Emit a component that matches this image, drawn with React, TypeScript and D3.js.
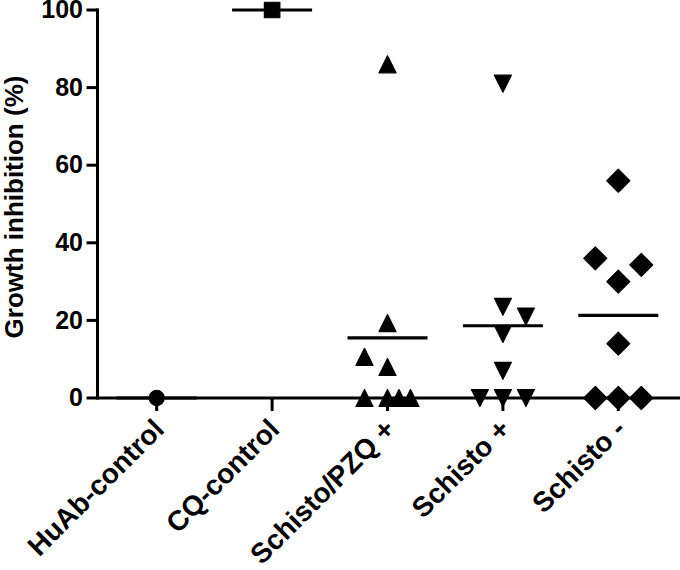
import React from "react";
import * as d3 from "d3";

const categories = ["HuAb-control", "CQ-control", "Schisto/PZQ +", "Schisto +", "Schisto -"];
const huAbValues = [0];
const cqValues = [100];
const pzqValues = [86, 19.3, 8, 10.6, 0, 0, 0, 0];
const schistoPosValues = [81, 23.5, 16.5, 7, 0, 0, 21, 0];
const schistoNegValues = [56, 30, 14, 36, 34.3, 0, 0, 0];
const groupValues = [huAbValues, cqValues, pzqValues, schistoPosValues, schistoNegValues];
const symbolKinds = ["circle", "square", "triangleUp", "triangleDown", "diamond"];
const yTicks = [0, 20, 40, 60, 80, 100];
const yTitle = "Growth inhibition (%)";

const W = 680;
const H = 570;
const FONT = "'Liberation Sans', Arial, Helvetica, sans-serif";

const x = d3.scalePoint<string>().domain(categories).range([99, 676]).padding(0.5);
const y = d3.scaleLinear().domain([0, 100]).range([398, 10]);

function symbolPath(kind: string): string {
  switch (kind) {
    case "circle":
      return d3.symbol(d3.symbolCircle, Math.PI * 7.6 * 7.6)()!;
    case "square":
      return d3.symbol(d3.symbolSquare, 15.5 * 15.5)()!;
    case "triangleUp": {
      const p = d3.path();
      p.moveTo(0, -8.5); p.lineTo(8.5, 8.5); p.lineTo(-8.5, 8.5); p.closePath();
      return p.toString();
    }
    case "triangleDown": {
      const p = d3.path();
      p.moveTo(0, 8.5); p.lineTo(8.5, -8.5); p.lineTo(-8.5, -8.5); p.closePath();
      return p.toString();
    }
    case "diamond": {
      const p = d3.path();
      p.moveTo(0, -11.5); p.lineTo(11.5, 0); p.lineTo(0, 11.5); p.lineTo(-11.5, 0); p.closePath();
      return p.toString();
    }
  }
  return "";
}

function layoutGroup(values: number[], cx: number) {
  const step = 23, hTol = 24, wTol = 16;
  const placed: { dx: number; py: number }[] = [];
  let displaced = 0;
  return values.map((v) => {
    const py = y(v);
    const free = (dx: number) =>
      placed.every((p) => !(Math.abs(p.dx - dx) < wTol && Math.abs(p.py - py) < hTol));
    let dx = 0;
    if (!free(0)) {
      const d = displaced % 2 === 0 ? -1 : 1;
      displaced++;
      const cands = [d * step, -d * step, (d * step) / 2, (-d * step) / 2];
      const f = cands.find(free);
      dx = f !== undefined ? f : (d * step) / 2;
    }
    placed.push({ dx, py });
    return { x: cx + dx, y: py, v };
  });
}

export default function App() {
  const x0 = 97.5;
  const yBase = y(0);
  return (
    <svg width={W} height={H} style={{ position: "absolute", left: 0, top: 0, background: "#fff" }}>
      <rect x={0} y={0} width={W} height={H} fill="#fff" />
      {/* Y axis */}
      <line x1={x0} x2={x0} y1={y(100) - 1.5} y2={yBase + 1.5} stroke="#000" strokeWidth={3} />
      {yTicks.map((t) => (
        <g key={t}>
          <line x1={x0 - 11} x2={x0} y1={y(t)} y2={y(t)} stroke="#000" strokeWidth={3} />
          <text x={83} y={y(t)} dy="0.33em" textAnchor="end" fontFamily={FONT} fontWeight="bold" fontSize={25} fill="#000">
            {t}
          </text>
        </g>
      ))}
      <text
        transform={`translate(23,${(y(0) + y(100)) / 2 + 3}) rotate(-90)`}
        textAnchor="middle"
        fontFamily={FONT}
        fontWeight="bold"
        fontSize={26}
        fill="#000"
      >
        {yTitle}
      </text>
      {/* X axis */}
      <line x1={x0} x2={W} y1={yBase} y2={yBase} stroke="#000" strokeWidth={3} />
      {categories.map((c) => (
        <g key={c}>
          <line x1={x(c)!} x2={x(c)!} y1={yBase} y2={yBase + 13} stroke="#000" strokeWidth={3} />
          <text
            transform={`translate(${x(c)! + 9},${yBase + 33}) rotate(-45)`}
            textAnchor="end"
            fontFamily={FONT}
            fontWeight="bold"
            fontSize={28}
            fill="#000"
          >
            {c}
          </text>
        </g>
      ))}
      {/* mean lines */}
      {categories.map((c, i) => {
        const m = d3.mean(groupValues[i])!;
        return (
          <line key={"m" + c} x1={x(c)! - 40} x2={x(c)! + 40} y1={y(m)} y2={y(m)} stroke="#000" strokeWidth={3.2} />
        );
      })}
      {/* points */}
      {categories.map((c, i) => {
        const pts = layoutGroup(groupValues[i], x(c)!);
        const path = symbolPath(symbolKinds[i]);
        return (
          <g key={"p" + c}>
            {pts.map((p, j) => (
              <path
                key={j}
                d={path}
                transform={`translate(${p.x},${p.y})`}
                fill="#000"
                stroke="#000"
                strokeWidth={1.2}
                strokeLinejoin="round"
              />
            ))}
          </g>
        );
      })}
    </svg>
  );
}
